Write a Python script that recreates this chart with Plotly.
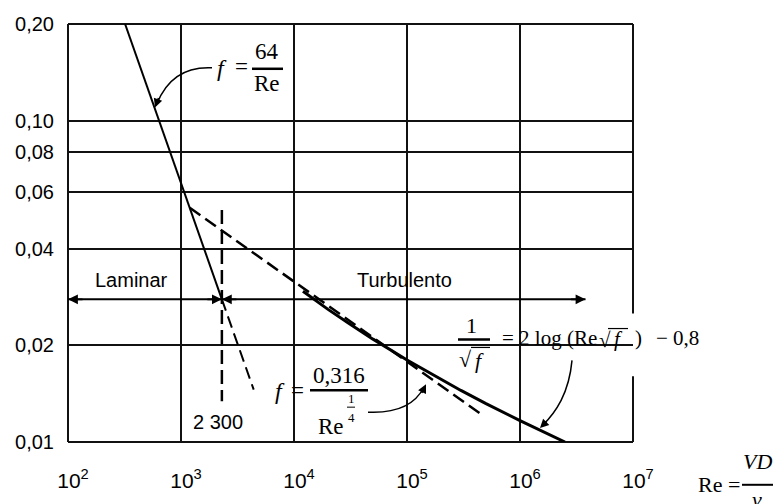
import plotly.graph_objects as go
import math

# ---------------- data ----------------
re_lam = [320, 2300]                 # laminar f = 64/Re (solid part)
f_lam = [0.200, 0.0278]
re_lam_ext = [2300, 4400]            # laminar continuation (dashed)
f_lam_ext = [0.0278, 0.01455]
re_blasius = [1195, 470000]          # f = 0.316 / Re^0.25 (dashed)
f_blasius = [0.0536, 0.0121]
re_prandtl = [12000, 20000, 30000, 50000, 100000, 200000, 300000, 500000, 1000000, 2500000]
f_prandtl = [0.02945, 0.02587, 0.0235, 0.0209, 0.0180, 0.01565, 0.01447, 0.01316, 0.01165, 0.0100]
re_crit = [2300, 2300]               # transition line
f_crit = [0.0527, 0.0134]
re_regime = [100, 3.8e6]             # regime arrow line
f_regime = [0.0278, 0.0278]

x_ticks = [1e2, 1e3, 1e4, 1e5, 1e6, 1e7]
x_ticktext = ["10<sup>2</sup>", "10<sup>3</sup>", "10<sup>4</sup>", "10<sup>5</sup>", "10<sup>6</sup>", "10<sup>7</sup>"]
y_ticks = [0.01, 0.02, 0.04, 0.06, 0.08, 0.10, 0.20]
y_ticktext = ["0,01", "0,02", "0,04", "0,06", "0,08", "0,10", "0,20"]

# ---------------- layout geometry ----------------
W, H = 773, 504
L, R, T, B = 68, 140, 24, 60
PW, PH = W - L - R, H - T - B

def P(x, y):
    """pixel -> paper coordinates"""
    return (x - L) / PW, (H - B - y) / PH

SANS = "Liberation Sans, Arial, sans-serif"
SERIF = "Liberation Serif, Times New Roman, serif"
GRID = "#111111"

fig = go.Figure()
fig.add_trace(go.Scatter(x=re_lam, y=f_lam, mode="lines", line=dict(color="black", width=2)))
fig.add_trace(go.Scatter(x=re_lam_ext, y=f_lam_ext, mode="lines", line=dict(color="black", width=2, dash="12px,6px")))
fig.add_trace(go.Scatter(x=re_blasius, y=f_blasius, mode="lines", line=dict(color="black", width=2.5, dash="13px,6px")))
fig.add_trace(go.Scatter(x=re_prandtl, y=f_prandtl, mode="lines", line=dict(color="black", width=3)))
fig.add_trace(go.Scatter(x=re_crit, y=f_crit, mode="lines", line=dict(color="black", width=2.5, dash="14px,6px")))
fig.add_trace(go.Scatter(x=re_regime, y=f_regime, mode="lines", line=dict(color="black", width=2)))

shapes = []
# frame (drawn between grid and traces so text boxes can break it)
for (x0, y0, x1, y1) in [(0, 0, 1, 0), (0, 1, 1, 1), (0, 0, 0, 1), (1, 0, 1, 1)]:
    shapes.append(dict(type="line", xref="paper", yref="paper", x0=x0, y0=y0, x1=x1, y1=y1,
                       line=dict(color=GRID, width=2), layer="between"))

def wbox(x0, y0, x1, y1):
    a, b = P(x0, y1); c, d = P(x1, y0)
    shapes.append(dict(type="rect", xref="paper", yref="paper", x0=a, y0=b, x1=c, y1=d,
                       fillcolor="white", line=dict(width=0), layer="between"))
def hline(x0, x1, y, w=2):
    a, b = P(x0, y); c, _ = P(x1, y)
    shapes.append(dict(type="line", xref="paper", yref="paper", x0=a, y0=b, x1=c, y1=b,
                       line=dict(color="black", width=w), layer="above"))
def path(pts, cmd):
    s = cmd.format(*[f"{v:.5f}" for p in pts for v in P(*p)])
    shapes.append(dict(type="path", xref="paper", yref="paper", path=s,
                       line=dict(color="black", width=1.5), layer="above"))

# white breaks in grid behind formulas
wbox(272, 362, 370, 430)
wbox(445, 315, 700, 378)

# fraction bars
hline(252, 283, 69, 2.5)
hline(310, 368, 392, 2.5)
hline(347, 355, 409, 1)
hline(458, 490, 341, 2.5)
hline(742, 773, 487, 2)

# curved leader lines
path([(212, 68), (172, 66), (157, 104)], "M {0},{1} Q {2},{3} {4},{5}")
path([(368, 414), (410, 416), (424, 389)], "M {0},{1} Q {2},{3} {4},{5}")
path([(572, 362), (569, 395), (556, 414), (542, 428)], "M {0},{1} C {2},{3} {4},{5} {6},{7}")

ann = []
def txt(x, y, s, size=20, font=SERIF, xanchor="center"):
    a, b = P(x, y)
    ann.append(dict(x=a, y=b, xref="paper", yref="paper", text=s, showarrow=False,
                    xanchor=xanchor, yanchor="middle", font=dict(family=font, size=size, color="black")))
def head(x, y, ax, ay):
    a, b = P(x, y)
    ann.append(dict(x=a, y=b, xref="paper", yref="paper", text="", showarrow=True,
                    ax=ax, ay=ay, arrowhead=2, arrowsize=1.1, arrowwidth=1.6, arrowcolor="black"))

def dhead(re, f, ax):
    ann.append(dict(x=math.log10(re), y=math.log10(f), xref="x", yref="y", text="", showarrow=True,
                    ax=ax, ay=0, arrowhead=2, arrowsize=1.1, arrowwidth=1.8, arrowcolor="black"))

# regime arrows
dhead(re_regime[0], f_regime[0], 16)
dhead(re_crit[0], f_regime[0], -16)
dhead(re_crit[0], f_regime[0], 16)
dhead(re_regime[1], f_regime[1], -16)

# leader arrow heads
head(155, 108, 4, -11)
head(426, 386, -5, 10)
head(540, 430, 8, -8)

# formula f = 64/Re
txt(222, 68, "<i>f</i>", 24)
txt(241, 67, "=", 23)
txt(267, 52, "64", 23)
txt(267, 84, "Re", 23)
# formula f = 0,316 / Re^(1/4)
txt(280, 393, "<i>f</i>", 24)
txt(297, 392, "=", 23)
txt(339, 377, "0,316", 23)
txt(331, 428, "Re", 23)
txt(351, 400, "1", 13)
txt(351, 419, "4", 13)
# formula Prandtl
txt(471, 327, "1", 22)
txt(465, 361, "√", 22)
txt(479, 362, "<i>f</i>", 22)
hline(471, 490, 349, 1.2)
txt(500, 340, "= 2 log (Re", 21, xanchor="left")
txt(597, 342, "√", 21, xanchor="left")
txt(612, 341, "<i>f</i>", 21, xanchor="left")
hline(608, 628, 330, 1.2)
txt(633, 340, ")", 21, xanchor="left")
txt(654, 340, "− 0,8", 21, xanchor="left")
# Re = VD/nu
txt(719, 487, "Re =", 22)
txt(757, 464, "<i>VD</i>", 22)
txt(757, 502, "<i>ν</i>", 22)

# text labels
txt(131, 281, "Laminar", 20, SANS)
txt(404, 281, "Turbulento", 20, SANS)
txt(218, 424, "2 300", 20, SANS)

fig.update_layout(
    width=W, height=H, margin=dict(l=L, r=R, t=T, b=B),
    paper_bgcolor="white", plot_bgcolor="white", showlegend=False,
    shapes=shapes, annotations=ann,
    xaxis=dict(type="log", range=[2, 7], tickvals=x_ticks, ticktext=x_ticktext,
               showgrid=True, gridcolor=GRID, gridwidth=1.8, showline=False, zeroline=False,
               ticks="", ticklabelstandoff=24, ticklabelshift=5,
               tickfont=dict(family=SANS, size=21, color="black")),
    yaxis=dict(type="log", range=[-2, math.log10(0.2)], tickvals=y_ticks, ticktext=y_ticktext,
               showgrid=True, gridcolor=GRID, gridwidth=1.8, showline=False, zeroline=False,
               ticks="", ticklabelstandoff=13,
               tickfont=dict(family=SANS, size=20, color="black")),
)

fig.write_html("out.html")
